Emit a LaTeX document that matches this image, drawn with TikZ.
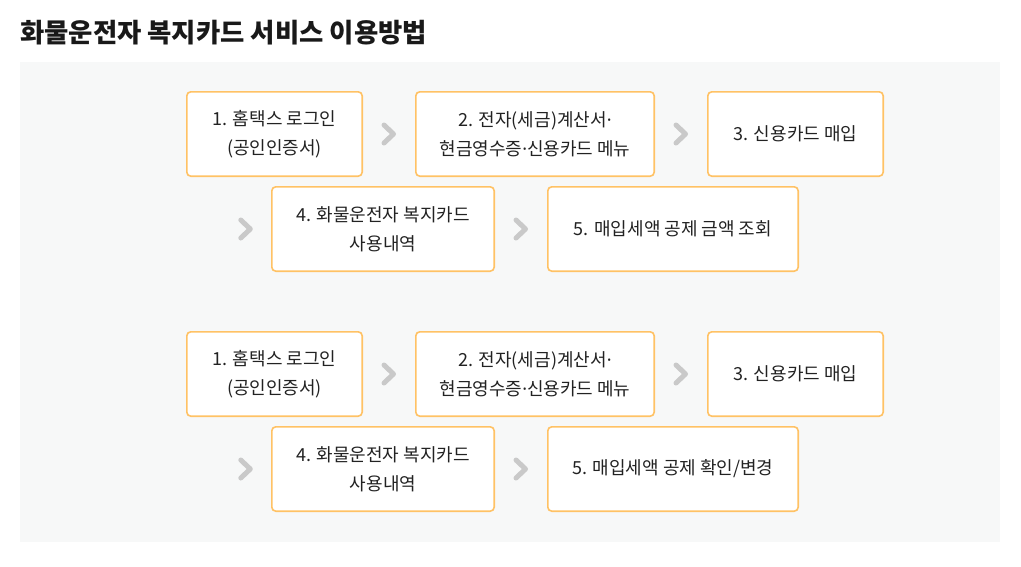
\documentclass[tikz,border=0pt]{standalone}
\usepackage{fontspec}
\setmainfont{Noto Sans CJK KR}
\newfontfamily\dotfont{Noto Sans}
\usetikzlibrary{positioning}

\definecolor{panelbg}{HTML}{F7F8F8}
\definecolor{boxline}{HTML}{FFC265}
\definecolor{txt}{HTML}{222222}
\definecolor{chevgray}{HTML}{C9C9C9}

\newcommand{\mdot}{{\dotfont ·}}

\tikzset{
  stepbox/.style={draw=boxline, line width=1.6pt, fill=white, rounded corners=4pt,
    align=center, text=txt, inner sep=0pt, outer sep=0pt, minimum height=84.4pt,
    font=\fontsize{18}{29}\selectfont},
  chevline/.style={draw=chevgray, line width=5pt, line cap=round, line join=round},
  chevron/.pic={\draw[chevline] (-5,-9) -- (4.5,0) -- (-5,9);},
}

\begin{document}
\begin{tikzpicture}[x=1pt,y=-1pt]
\useasboundingbox (0,0) rectangle (1021,566);

% Title and panel
\node[anchor=west, inner sep=0pt, text=black!90, font=\fontsize{26.4}{30}\selectfont\bfseries] (title) at (20,33) {화물운전자 복지카드 서비스 이용방법};
\fill[panelbg] (20,62) rectangle (1000,542);

% First flow
\node[stepbox, minimum width=175.4pt] (a1) at (274.5,134) {1. 홈택스 로그인\\(공인인증서)};
\node[stepbox, minimum width=238.4pt, right=53.6pt of a1] (a2) {2. 전자(세금)계산서\mdot\\현금영수증\mdot 신용카드 메뉴};
\node[stepbox, minimum width=175.4pt, right=53.6pt of a2] (a3) {3. 신용카드 매입};
\node[stepbox, minimum width=222.4pt] (a4) at (383,229) {4. 화물운전자 복지카드\\사용내역};
\node[stepbox, minimum width=250.4pt, right=53.6pt of a4] (a5) {5. 매입세액 공제 금액 조회};

\path (a1.east) -- pic{chevron} (a2.west);
\path (a2.east) -- pic{chevron} (a3.west);
\pic at ([xshift=-26pt]a4.west) {chevron};
\path (a4.east) -- pic{chevron} (a5.west);

% Second flow
\node[stepbox, minimum width=175.4pt] (b1) at (274.5,374) {1. 홈택스 로그인\\(공인인증서)};
\node[stepbox, minimum width=238.4pt, right=53.6pt of b1] (b2) {2. 전자(세금)계산서\mdot\\현금영수증\mdot 신용카드 메뉴};
\node[stepbox, minimum width=175.4pt, right=53.6pt of b2] (b3) {3. 신용카드 매입};
\node[stepbox, minimum width=222.4pt] (b4) at (383,469) {4. 화물운전자 복지카드\\사용내역};
\node[stepbox, minimum width=250.4pt, right=53.6pt of b4] (b5) {5. 매입세액 공제 확인/변경};

\path (b1.east) -- pic{chevron} (b2.west);
\path (b2.east) -- pic{chevron} (b3.west);
\pic at ([xshift=-26pt]b4.west) {chevron};
\path (b4.east) -- pic{chevron} (b5.west);

\end{tikzpicture}
\end{document}
